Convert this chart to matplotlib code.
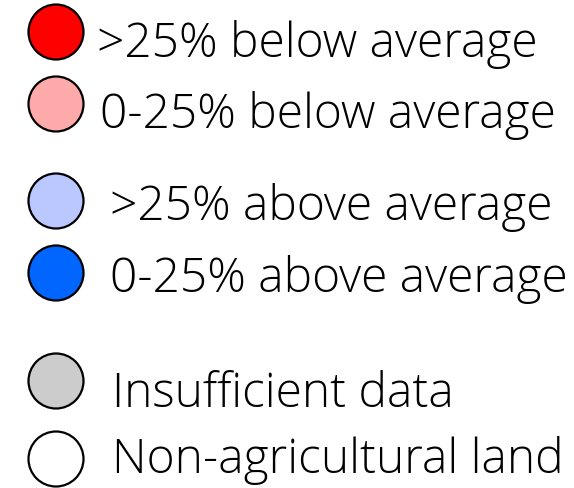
import matplotlib.pyplot as plt
from matplotlib.patches import Circle
from matplotlib import font_manager

labels = [">25% below average", "0-25% below average",
          ">25% above average", "0-25% above average",
          "Insufficient data", "Non-agricultural land"]
colors = ["#ff0000", "#ffaaaa", "#bbc8ff", "#0066ff", "#cccccc", "#ffffff"]

# layout (pixels, top-down)
row_y = [33, 105, 202, 274, 382, 460]
text_x = [97, 100, 110, 110, 112, 112]
baseline_y = [57, 128, 220, 292, 407, 473]

fams = {f.name for f in font_manager.fontManager.ttflist}
family = "Open Sans" if "Open Sans" in fams else "DejaVu Sans"

fig = plt.figure(figsize=(5.74, 4.89), dpi=100)
ax = fig.add_axes([0, 0, 1, 1])
ax.set_xlim(0, 574)
ax.set_ylim(489, 0)
ax.set_aspect("equal")
ax.axis("off")

for lab, col, y, tx, by in zip(labels, colors, row_y, text_x, baseline_y):
    ax.add_patch(Circle((56, y), 27.5, facecolor=col, edgecolor="black", linewidth=1.6))
    ax.text(tx, by, lab, fontsize=34.5, family=family, weight="light",
            va="baseline", ha="left", color="black")

fig.savefig("out.png", dpi=100)
